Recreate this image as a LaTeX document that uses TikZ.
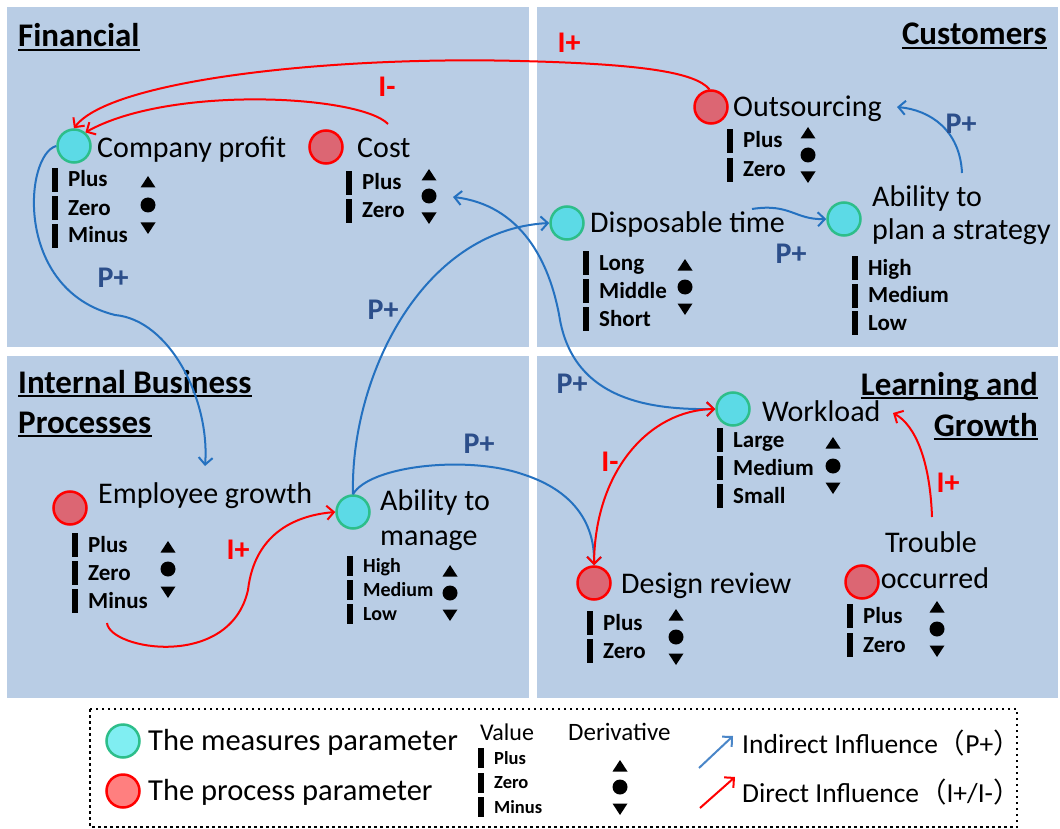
\documentclass[tikz,border=0pt]{standalone}
\usepackage{fontspec}
\setmainfont{Carlito}
\newfontfamily\cjkfont{Noto Sans CJK SC}
\usetikzlibrary{arrows.meta}
\definecolor{panel}{HTML}{B9CDE5}
\definecolor{measfill}{HTML}{5CDAE6}
\definecolor{measdraw}{HTML}{2DBE8A}
\definecolor{procfill}{HTML}{DC6673}
\definecolor{arrblue}{HTML}{2471C0}
\definecolor{pblue}{HTML}{2C4E8A}
\definecolor{legmeasfill}{HTML}{80EEF2}
\definecolor{legprocfill}{HTML}{FF7F7F}
\definecolor{legblue}{HTML}{4A86C8}
\newcommand{\myfs}[1]{\fontsize{#1}{#1}\selectfont}
\newcommand{\vrows}[7]{%
  \foreach \t [count=\i] in {#7} {%
    \fill ({#2},{#3+(\i-1)*#4-0.79*#6}) rectangle +(6,#6);
    \node[anchor=base west,inner sep=0pt,font=\bfseries\myfs{#5}] (#1\i) at ({#2+16},{#3+(\i-1)*#4}) {\t};
  }}
\newcommand{\mkderiv}[4]{%
  \fill ({#1-7.5},{#2+5.5}) -- ({#1+7.5},{#2+5.5}) -- ({#1},{#2-6}) -- cycle;
  \fill (#1,#3) circle (7.5);
  \fill ({#1-7.5},{#4-5.5}) -- ({#1+7.5},{#4-5.5}) -- ({#1},{#4+6}) -- cycle;}
\begin{document}
\begin{tikzpicture}[x=1pt,y=-1pt,
  meas/.style={circle,fill=measfill,draw=measdraw,line width=2.5pt,minimum size=33pt,inner sep=0pt},
  proc/.style={circle,fill=procfill,draw=red,line width=2.5pt,minimum size=33pt,inner sep=0pt},
  lbl/.style={anchor=base west,inner sep=0pt,font=\myfs{30}},
  ttl/.style={anchor=base west,inner sep=0pt,font=\bfseries\myfs{33}},
  ttlr/.style={ttl,anchor=base east},
  plab/.style={inner sep=0pt,font=\bfseries\myfs{30},text=pblue},
  ilab/.style={inner sep=0pt,font=\bfseries\myfs{30},text=red},
  barb/.tip={Straight Barb[length=7pt,width=14pt]},
  blueln/.style={draw=arrblue,line width=2pt},
  redln/.style={draw=red,line width=2pt},
]
\useasboundingbox (0,0) rectangle (1060,829);
\fill[white] (0,0) rectangle (1060,829);
% panels
\fill[panel] (7,7) rectangle (529,347);
\fill[panel] (537,7) rectangle (1058,347);
\fill[panel] (7,356) rectangle (529,698);
\fill[panel] (537,356) rectangle (1058,698);
% titles
\node[ttl] (tfin) at (18,47) {Financial};
\node[ttlr] (tcus) at (1047,45) {Customers};
\node[ttl] (tibp1) at (18,393) {Internal Business};
\node[ttl] (tibp2) at (18,433) {Processes};
\node[ttlr] (tlg1) at (1038,395) {Learning and};
\node[ttlr] (tlg2) at (1038,436) {Growth};
\foreach \n in {tfin,tcus,tibp1,tibp2,tlg1,tlg2}
  \draw[line width=1.8pt] ([yshift=-3pt]\n.base west) -- ([yshift=-3pt]\n.base east);
% Financial
\node[meas] (cp) at (74,146) {};
\node[lbl] (cpl) at (97,158) {Company profit};
\vrows{cpv}{52}{187}{28}{23}{24}{Plus,Zero,Minus}
\mkderiv{148}{182}{205}{228}
\node[proc] (cost) at (326,147) {};
\node[lbl] (costl) at (357,158) {Cost};
\vrows{costv}{346}{190}{28}{23}{24}{Plus,Zero}
\mkderiv{429}{175}{196}{218}
% Customers
\node[proc] (out) at (711,107) {};
\node[lbl] (outl) at (733,117) {Outsourcing};
\vrows{outv}{727}{148}{29}{23}{24}{Plus,Zero}
\mkderiv{808}{133}{155}{177}
\node[meas] (dt) at (567,223) {};
\node[lbl] (dtl) at (590,233) {Disposable time};
\vrows{dtv}{583}{270}{28}{23}{24}{Long,Middle,Short}
\mkderiv{685}{265}{287}{309}
\node[meas] (aps) at (844,219) {};
\node[lbl] (apsl1) at (872,207) {Ability to};
\node[lbl] (apsl2) at (872,240) {plan a strategy};
\vrows{apsv}{852}{275}{27.5}{23}{24}{High,Medium,Low}
% Internal business processes
\node[proc] (eg) at (70,508) {};
\node[lbl] (egl) at (98,503) {Employee growth};
\vrows{egv}{72}{552}{28}{23}{24}{Plus,Zero,Minus}
\mkderiv{168}{547}{569}{592}
\node[meas] (am) at (353,512) {};
\node[lbl] (aml1) at (380,510) {Ability to};
\node[lbl] (aml2) at (380,545) {manage};
\vrows{amv}{347}{572}{24}{20}{20}{High,Medium,Low}
\mkderiv{450}{571}{593}{615}
% Learning and growth
\node[meas] (wl) at (733,409) {};
\node[lbl] (wll) at (762,421) {Workload};
\vrows{wlv}{717}{447}{28}{23}{24}{Large,Medium,Small}
\mkderiv{833}{443}{466}{488}
\node[proc] (dr) at (594,583) {};
\node[lbl] (drl) at (621,593) {Design review};
\vrows{drv}{587}{630}{28}{23}{24}{Plus,Zero}
\mkderiv{676}{615}{637}{659}
\node[proc] (to) at (862,582) {};
\node[lbl,anchor=base] (tol1) at (931,552) {Trouble};
\node[lbl,anchor=base] (tol2) at (935,588) {occurred};
\vrows{tov}{847}{623}{29}{23}{24}{Plus,Zero}
\mkderiv{937}{607}{629}{651}
% free ends
\coordinate (egtop) at (205,466);
\coordinate (costtop) at (388,124);
\coordinate (costr) at (453,197);
\coordinate (dtr) at (752,209);
\coordinate (apstop) at (962,173);
\coordinate (outr) at (897,107);
\coordinate (egbot) at (107,623);
\coordinate (totop) at (932,517);
\coordinate (wlr) at (893,413);
% connectors
\draw[redln,-barb] (out.95) .. controls (695,72) and (640,64) .. (520,61) .. controls (330,56) and (110,80) .. (cp.north);
\node[ilab] (lab1) at (569,43) {I+};
\draw[redln,-barb] (costtop) .. controls (360,95) and (170,85) .. (cp.50);
\node[ilab] (lab2) at (387,87) {I-};
\draw[blueln,-barb] (cp.west) .. controls (24,155) and (14,290) .. (115,315) .. controls (170,320) and (210,400) .. (egtop);
\node[plab] (lab3) at (113,278) {P+};
\draw[blueln,-barb] (am.north) .. controls (350,380) and (420,230) .. (dt.west);
\node[plab] (lab4) at (383,310) {P+};
\draw[blueln,barb-barb] (costr) .. controls (520,205) and (550,260) .. (560,320) .. controls (575,400) and (650,410) .. (wl.west);
\node[plab] (lab5) at (572,384) {P+};
\draw[blueln,-barb] (dtr) .. controls (790,203) and (795,220) .. (aps.west);
\node[plab] (lab6) at (791,254) {P+};
\draw[blueln,-barb] (apstop) .. controls (960,130) and (930,110) .. (outr);
\node[plab] (lab7) at (961,124) {P+};
\draw[blueln,-barb] (am.north) .. controls (370,465) and (470,455) .. (525,475) .. controls (570,490) and (595,520) .. (dr.north);
\node[plab] (lab8) at (479,444) {P+};
\draw[redln,-barb] (egbot) .. controls (110,650) and (230,670) .. (248,590) .. controls (255,530) and (300,515) .. (am.west);
\node[ilab] (lab9) at (238,550) {I+};
\draw[redln,barb-barb] (dr.north) .. controls (595,470) and (650,410) .. (wl.west);
\node[ilab] (lab10) at (610,462) {I-};
\draw[redln,-barb] (totop) .. controls (930,460) and (915,425) .. (wlr);
\node[ilab] (lab11) at (948,483) {I+};
% legend
\draw[line width=2.5pt,dash pattern=on 2.5pt off 3.5pt] (90,709) rectangle (1017,827);
\node[circle,fill=legmeasfill,draw=measdraw,line width=2.5pt,minimum size=33pt,inner sep=0pt] (legm) at (123,741) {};
\node[lbl,font=\myfs{30.5}] (legmt) at (148,750) {The measures parameter};
\node[circle,fill=legprocfill,draw=red,line width=2.5pt,minimum size=33pt,inner sep=0pt] (legp) at (123,791) {};
\node[lbl,font=\myfs{30.5}] (legpt) at (148,800) {The process parameter};
\node[lbl,font=\myfs{24}] (legval) at (480,740) {Value};
\vrows{legv}{478}{764}{24.5}{18.5}{20}{Plus,Zero,Minus}
\node[lbl,font=\myfs{25}] (legder) at (568,740) {Derivative};
\mkderiv{620}{766}{787}{809}
\coordinate (lb1) at (699,768);
\coordinate (lb2) at (733,736);
\draw[draw=legblue,line width=2pt,-barb] (lb1) -- (lb2);
\coordinate (lr1) at (700,808);
\coordinate (lr2) at (735,777);
\draw[redln,-barb] (lr1) -- (lr2);
\node[lbl,font=\myfs{27.5}] (legind) at (742,753) {Indirect Influence{\cjkfont （}P+{\cjkfont ）}};
\node[lbl,font=\myfs{27.5}] (legdir) at (742,802) {Direct Influence{\cjkfont （}I+/I-{\cjkfont ）}};
\end{tikzpicture}
\end{document}
